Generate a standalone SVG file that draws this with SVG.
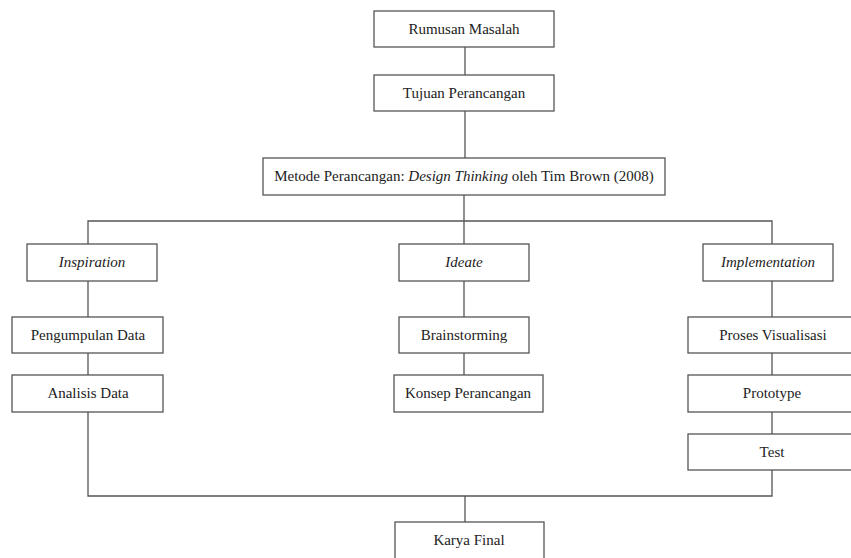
<svg xmlns="http://www.w3.org/2000/svg" width="851" height="558" viewBox="0 0 851 558">
<style>
.box{fill:#fff;stroke:#555;stroke-width:1.3}
text{font-family:'Liberation Serif',serif;font-size:15px;fill:#222;text-anchor:middle}
.i{font-style:italic}
.c{fill:none;stroke:#555;stroke-width:1.3}
</style>
<rect width="851" height="558" fill="#fff"/>
<g id="connectors">
<line class="c" x1="465" y1="47" x2="465" y2="75"/>
<line class="c" x1="465" y1="111" x2="465" y2="158"/>
<line class="c" x1="464" y1="195" x2="464" y2="245"/>
<polyline class="c" points="88,245 88,221 772,221 772,245"/>
<line class="c" x1="88" y1="281" x2="88" y2="317"/>
<line class="c" x1="88" y1="353" x2="88" y2="375"/>
<polyline class="c" points="88,412 88,496 772,496 772,470"/>
<line class="c" x1="464" y1="281" x2="464" y2="317"/>
<line class="c" x1="464" y1="353" x2="464" y2="375"/>
<line class="c" x1="772" y1="281" x2="772" y2="317"/>
<line class="c" x1="772" y1="353" x2="772" y2="375"/>
<line class="c" x1="772" y1="412" x2="772" y2="434"/>
<line class="c" x1="465" y1="496" x2="465" y2="522"/>
</g>
<g id="rumusan"><rect class="box" x="374" y="11" width="180" height="36"/><text font-family="Liberation Serif, serif" x="464" y="34">Rumusan Masalah</text></g>
<g id="tujuan"><rect class="box" x="374" y="75" width="180" height="36"/><text font-family="Liberation Serif, serif" x="464" y="98">Tujuan Perancangan</text></g>
<g id="metode"><rect class="box" x="263" y="158" width="402" height="37"/><text font-family="Liberation Serif, serif" x="464" y="181">Metode Perancangan: <tspan class="i">Design Thinking</tspan> oleh Tim Brown (2008)</text></g>
<g id="inspiration"><rect class="box" x="27" y="244" width="130" height="37"/><text class="i" font-family="Liberation Serif, serif" x="92" y="267">Inspiration</text></g>
<g id="ideate"><rect class="box" x="399" y="244" width="130" height="37"/><text class="i" font-family="Liberation Serif, serif" x="464" y="267">Ideate</text></g>
<g id="implementation"><rect class="box" x="703" y="244" width="130" height="37"/><text class="i" font-family="Liberation Serif, serif" x="768" y="267">Implementation</text></g>
<g id="pengumpulan"><rect class="box" x="12" y="317" width="151" height="36"/><text font-family="Liberation Serif, serif" x="88" y="340">Pengumpulan Data</text></g>
<g id="analisis"><rect class="box" x="12" y="375" width="151" height="37"/><text font-family="Liberation Serif, serif" x="88" y="398">Analisis Data</text></g>
<g id="brainstorming"><rect class="box" x="399" y="317" width="130" height="36"/><text font-family="Liberation Serif, serif" x="464" y="340">Brainstorming</text></g>
<g id="konsep"><rect class="box" x="394" y="375" width="149" height="37"/><text font-family="Liberation Serif, serif" x="468" y="398">Konsep Perancangan</text></g>
<g id="proses"><rect class="box" x="688" y="317" width="168" height="36"/><text font-family="Liberation Serif, serif" x="773" y="340">Proses Visualisasi</text></g>
<g id="prototype"><rect class="box" x="688" y="375" width="168" height="37"/><text font-family="Liberation Serif, serif" x="772" y="398">Prototype</text></g>
<g id="test"><rect class="box" x="688" y="434" width="168" height="36"/><text font-family="Liberation Serif, serif" x="772" y="457">Test</text></g>
<g id="karya"><rect class="box" x="395" y="522" width="149" height="37"/><text font-family="Liberation Serif, serif" x="469" y="545">Karya Final</text></g>
</svg>
